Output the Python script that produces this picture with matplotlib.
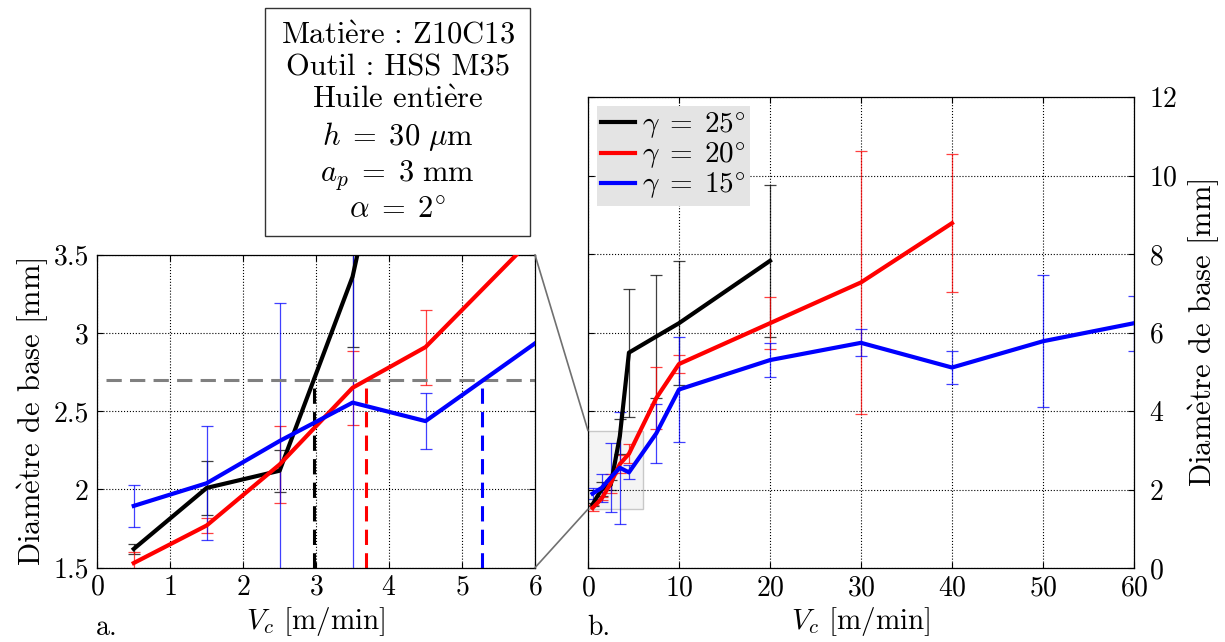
import matplotlib
matplotlib.use("Agg")
import matplotlib.pyplot as plt
from matplotlib.patches import Rectangle, ConnectionPatch

plt.rcParams['font.family'] = ['cmr10', 'DejaVu Serif']
plt.rcParams['mathtext.fontset'] = 'cm'
plt.rcParams['axes.formatter.use_mathtext'] = True
plt.rcParams['axes.unicode_minus'] = False

# Données (Vc en m/min, diamètre de base en mm)
vc_25 = [0.5, 1.5, 2.5, 3.5, 4.5, 7.5, 10, 20]
d_25 = [1.62, 2.01, 2.12, 3.36, 5.49, 5.90, 6.24, 7.83]
err_25 = [0.03, 0.175, 0.135, 0.45, 1.63, 1.57, 1.58, 1.94]

vc_20 = [0.5, 1.5, 2.5, 3.5, 4.5, 7.5, 10, 20, 30, 40]
d_20 = [1.53, 1.77, 2.16, 2.65, 2.91, 4.33, 5.20, 6.24, 7.28, 8.79]
err_20 = [0.07, 0.048, 0.245, 0.235, 0.24, 0.79, 0.23, 0.67, 3.36, 1.76]

vc_15 = [0.5, 1.5, 2.5, 3.5, 4.5, 7.5, 10, 20, 30, 40, 50, 60]
d_15 = [1.895, 2.04, 2.31, 2.555, 2.437, 3.43, 4.55, 5.30, 5.74, 5.11, 5.78, 6.24]
err_15 = [0.132, 0.366, 0.88, 1.43, 0.178, 0.76, 1.35, 0.43, 0.34, 0.43, 1.68, 0.70]

series = [
    (vc_25, d_25, err_25, 'k', r'$\gamma \;=\; 25^{\circ}$'),
    (vc_20, d_20, err_20, 'r', r'$\gamma \;=\; 20^{\circ}$'),
    (vc_15, d_15, err_15, 'b', r'$\gamma \;=\; 15^{\circ}$'),
]

# seuil de diamètre et vitesses correspondantes
d_seuil = 2.7
vc_seuil = [2.97, 3.69, 5.27]
couleurs_seuil = ['k', 'r', 'b']

e_grave = r'$\grave{\mathrm{e}}$'
infos = ("Mati" + e_grave + "re : Z10C13\nOutil : HSS M35\nHuile enti" + e_grave + "re\n"
         r"$h \;=\; 30\ \mu\mathrm{m}$" + "\n" + r"$a_p \;=\; 3\ \mathrm{mm}$" + "\n"
         r"$\alpha \;=\; 2^{\circ}$")
ylab = 'Diam' + e_grave + 'tre de base [mm]'

fs = 20

fig = plt.figure(figsize=(12.25, 6.42), dpi=100)
ax1 = fig.add_axes([0.0794, 0.1157, 0.3573, 0.4875])
ax2 = fig.add_axes([0.48, 0.1153, 0.4457, 0.7332])

for ax in (ax1, ax2):
    for x, y, e, c, lab in series:
        ax.errorbar(x, y, yerr=e, fmt='none', ecolor=c, elinewidth=0.9,
                    capsize=4, capthick=0.9, alpha=0.75, zorder=2)
        ax.plot(x, y, color=c, lw=3, label=lab, zorder=3)
    ax.grid(True, color='k', linestyle=':', linewidth=0.8)
    ax.tick_params(direction='in', top=True, right=True, length=4,
                   labelsize=fs, width=0.8)
    ax.tick_params(axis='x', pad=5)
    ax.set_xlabel('$V_c$ [m/min]', fontsize=21, labelpad=3)
    for s in ax.spines.values():
        s.set_linewidth(0.9)

# a. zoom
ax1.axhline(d_seuil, xmin=0.02, xmax=1, color='#808080', lw=2.2,
            ls=(0, (5, 2.7)), zorder=2.5)
for v, c in zip(vc_seuil, couleurs_seuil):
    ax1.plot([v, v], [1.5, d_seuil], color=c, lw=2.2, ls=(0, (5, 2.7)),
             zorder=2.5)
ax1.set_xlim(0, 6)
ax1.set_ylim(1.5, 3.5)
ax1.set_xticks(range(7))
ax1.set_yticks([1.5, 2, 2.5, 3, 3.5])
ax1.set_yticklabels(['1.5', '2', '2.5', '3', '3.5'])
ax1.tick_params(axis='y', pad=6)
ax1.set_ylabel(ylab, fontsize=22, labelpad=2)

# b. vue complète
ax2.set_xlim(0, 60)
ax2.set_ylim(0, 12)
ax2.set_xticks(range(0, 61, 10))
ax2.set_yticks(range(0, 13, 2))
ax2.yaxis.tick_right()
ax2.tick_params(axis='y', left=True, right=True, labelleft=False,
                labelright=True, pad=11)
ax2.yaxis.set_label_position('right')
ax2.set_ylabel(ylab, fontsize=22, labelpad=6)
ax2.add_patch(Rectangle((0, 1.5), 6, 2, facecolor='#f4f4f4',
                        edgecolor='#c8c8c8', lw=1, zorder=1))
leg = ax2.legend(loc='upper left', fontsize=21, frameon=True, fancybox=False,
                 handlelength=1.15, handletextpad=0.25, labelspacing=0.0,
                 borderpad=0.15, borderaxespad=0.3)
leg.get_frame().set_facecolor('#e4e4e4')
leg.get_frame().set_edgecolor('none')
leg.get_frame().set_alpha(1)

for ya, yb in [(3.5, 3.5), (1.5, 1.5)]:
    con = ConnectionPatch(xyA=(6, ya), coordsA=ax1.transData,
                          xyB=(0, yb), coordsB=ax2.transData,
                          color='#707070', lw=1.2)
    fig.add_artist(con)

# cadre des conditions de coupe
fig.add_artist(Rectangle((265 / 1225, 1 - 236 / 642), 265 / 1225, 228 / 642,
                         transform=fig.transFigure, fill=False,
                         edgecolor='#333333', lw=1))
fig.text(397.5 / 1225, 1 - 123 / 642, infos, ha='center', va='center',
         fontsize=22, linespacing=1.22)

fig.text(96 / 1225, 1 - 628 / 642, 'a.', fontsize=fs, va='center')
fig.text(587 / 1225, 1 - 628 / 642, 'b.', fontsize=fs, va='center')

fig.savefig('out.png', dpi=100)
